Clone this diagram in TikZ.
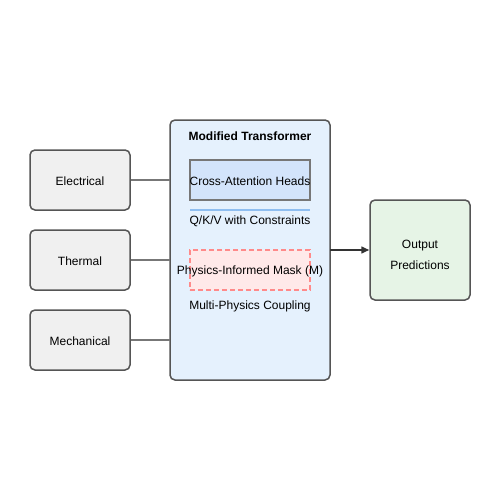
\documentclass[tikz,border=0pt]{standalone}
\usepackage{fontspec}
\setmainfont{Liberation Sans}
\usetikzlibrary{arrows.meta}
\definecolor{inFill}{HTML}{F0F0F0}
\definecolor{boxLine}{HTML}{555555}
\definecolor{tfFill}{HTML}{E5F1FD}
\definecolor{caFill}{HTML}{D3E4FB}
\definecolor{caLine}{HTML}{777777}
\definecolor{qkvLine}{HTML}{8FBEF0}
\definecolor{mkFill}{HTML}{FFE9E9}
\definecolor{mkLine}{HTML}{FF8A8A}
\definecolor{outFill}{HTML}{E6F4E6}
\definecolor{conn}{HTML}{777777}
\definecolor{arr}{HTML}{333333}
\tikzset{
  inbox/.style={draw=boxLine, fill=inFill, line width=1.5pt, rounded corners=5pt, minimum width=100pt, minimum height=60pt, inner sep=0pt},
  lbl/.style={inner sep=0pt, font=\fontsize{12}{14}\selectfont},
  conline/.style={draw=conn, line width=1.2pt},
}
\begin{document}
\begin{tikzpicture}[x=1pt,y=-1pt]
\useasboundingbox (0,0) rectangle (500,500);
% transformer
\draw[draw=boxLine, fill=tfFill, line width=1.5pt, rounded corners=5pt] (170,120) rectangle (330,380);
\node[lbl, font=\fontsize{12}{14}\selectfont\bfseries] (title) at (250,136) {Modified Transformer};
\node[draw=caLine, fill=caFill, line width=1.5pt, minimum width=120pt, minimum height=40pt, inner sep=0pt] (ca) at (250,180) {};
\node[lbl] (catext) at (250,181.5) {Cross-Attention Heads};
\coordinate (qa) at (190,210);
\coordinate (qb) at (310,210);
\draw[draw=qkvLine, line width=2pt] (qa) -- (qb);
\node[lbl] (qkv) at (250,221.5) {Q/K/V with Constraints};
\node[draw=mkLine, fill=mkFill, line width=1.5pt, dashed, dash pattern=on 5pt off 3pt, minimum width=120pt, minimum height=40pt, inner sep=0pt] (mask) at (250,270) {};
\node[lbl] (masktext) at (250,271.5) {Physics-Informed Mask (M)};
\node[lbl] (coupling) at (250,306.5) {Multi-Physics Coupling};
\coordinate (tfw1) at (170,180);
\coordinate (tfw2) at (170,260);
\coordinate (tfw3) at (170,340);
\coordinate (tfe) at (330,250);
% inputs
\node[inbox] (elec) at (80,180) {};
\node[inbox] (therm) at (80,260) {};
\node[inbox] (mech) at (80,340) {};
\node[lbl] (eleclbl) at (80,181.5) {Electrical};
\node[lbl] (thermlbl) at (80,261.5) {Thermal};
\node[lbl] (mechlbl) at (80,341.5) {Mechanical};
\draw[conline] (elec.east) -- (tfw1);
\draw[conline] (therm.east) -- (tfw2);
\draw[conline] (mech.east) -- (tfw3);
% output
\node[draw=boxLine, fill=outFill, line width=1.5pt, rounded corners=5pt, minimum width=100pt, minimum height=100pt, inner sep=0pt] (out) at (420,250) {};
\node[lbl] (out1) at (420,245.5) {Output};
\node[lbl] (out2) at (420,265.5) {Predictions};
\draw[draw=arr, line width=1.5pt, -{Triangle[length=8pt,width=7pt]}] (tfe) -- (out.west);
\end{tikzpicture}
\end{document}
